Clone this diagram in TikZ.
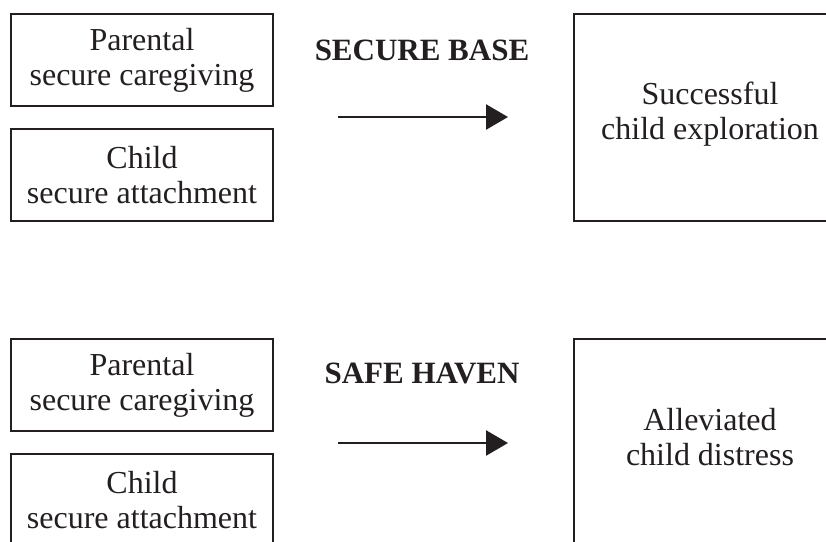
\documentclass[tikz,border=0pt]{standalone}
\usepackage{fontspec}
\setmainfont{Liberation Serif}
\usetikzlibrary{arrows.meta}
\definecolor{ink}{HTML}{231F20}
\begin{document}
\begin{tikzpicture}[x=1pt,y=-1pt,
  every node/.style={text=ink},
  smallbox/.style={draw=ink,line width=2.8pt,minimum width=262pt,minimum height=92pt,
    inner sep=0pt,align=center,font=\fontsize{32}{35}\selectfont},
  bigbox/.style={draw=ink,line width=2.8pt,minimum width=272pt,minimum height=207pt,
    inner sep=0pt},
  bodytext/.style={align=center,font=\fontsize{32}{35}\selectfont},
  heading/.style={font=\fontsize{31}{33}\selectfont\bfseries},
  flow/.style={draw=ink,line width=2.4pt,-{Triangle[length=22pt,width=25pt]}}]
\clip (0,0) rectangle (826,541);
\fill[white] (0,0) rectangle (826,541);

% secure base panel
\node[smallbox] (pc1) at (142,60) {Parental\\secure caregiving};
\node[smallbox] (ca1) at (142,175) {Child\\secure attachment};
\node[bigbox] (out1) at (710,117.5) {};
\node[bodytext] (out1t) at ([yshift=3pt]out1.center) {Successful\\child exploration};
\node[heading] (lab1) at (422,50) {SECURE BASE};
\coordinate (a1s) at (338,117);
\coordinate (a1e) at (508,117);
\draw[flow] (a1s) -- (a1e);

% safe haven panel
\node[smallbox] (pc2) at (142,385) {Parental\\secure caregiving};
\node[smallbox] (ca2) at (142,500) {Child\\secure attachment};
\node[bigbox] (out2) at (710,442.5) {};
\node[bodytext] (out2t) at ([yshift=5pt]out2.center) {Alleviated\\child distress};
\node[heading] (lab2) at (422,373) {SAFE HAVEN};
\coordinate (a2s) at (338,443);
\coordinate (a2e) at (508,443);
\draw[flow] (a2s) -- (a2e);
\end{tikzpicture}
\end{document}
